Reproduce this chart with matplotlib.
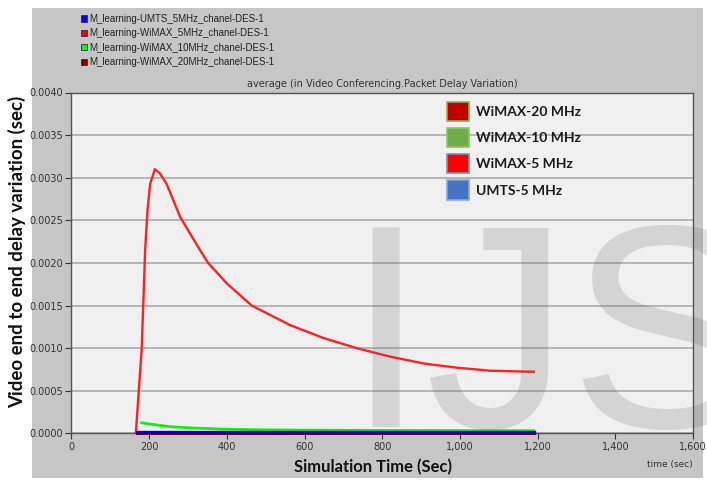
import numpy as np
import matplotlib
matplotlib.use('Agg')
import matplotlib.pyplot as plt
from matplotlib.patches import Patch, Rectangle
from matplotlib.ticker import FuncFormatter, MultipleLocator

# series (time in sec, delay variation in sec)
t_wimax5 = [166, 181, 190, 196, 203, 215, 228, 245, 280, 331, 352, 400, 464,
            563, 648, 734, 820, 906, 992, 1077, 1180, 1190]
d_wimax5 = [0.0, 0.00098, 0.00215, 0.00262, 0.00293, 0.00310, 0.00305, 0.00293,
            0.00254, 0.00215, 0.00200, 0.00176, 0.00150, 0.00127, 0.00112,
            0.00100, 0.00090, 0.00082, 0.00077, 0.000735, 0.000723, 0.000723]

t_wimax10 = [181, 200, 254, 300, 382, 500, 700, 900, 1190]
d_wimax10 = [0.000124, 0.000110, 0.0000775, 0.000065, 0.00005, 0.00004,
             0.000035, 0.000032, 0.00003]

t_wimax20 = [170, 400, 800, 1190]
d_wimax20 = [0.000004, 0.000004, 0.000004, 0.000004]

t_umts = [170, 400, 800, 1190]
d_umts = [0.00001, 0.00001, 0.00001, 0.00001]

top_names = ['M_learning-UMTS_5MHz_chanel-DES-1',
             'M_learning-WiMAX_5MHz_chanel-DES-1',
             'M_learning-WiMAX_10MHz_chanel-DES-1',
             'M_learning-WiMAX_20MHz_chanel-DES-1']
top_colors = ['#0000ff', '#ff0000', '#00ff00', '#800000']

box_names = ['WiMAX-20 MHz', 'WiMAX-10 MHz', 'WiMAX-5 MHz', 'UMTS-5 MHz']
box_colors = ['#c00000', '#70ad47', '#ff0000', '#4472c4']
box_edges = ['#8fae5a', '#8fc46a', '#7f8fb0', '#8fa8d8']

W, H = 707, 484
fig = plt.figure(figsize=(W / 100, H / 100), dpi=100, facecolor='white')

# gray panel behind everything
fig.patches.append(Rectangle((32 / W, 6 / H), (703 - 32) / W, (478 - 8) / H,
                             transform=fig.transFigure, facecolor='#c6c6c6',
                             edgecolor='none', zorder=0))

ax = fig.add_axes([71.3 / W, (H - 433.3) / H, (693.2 - 71.3) / W, (433.3 - 92.5) / H])
ax.set_zorder(1)
ax.set_facecolor('#f0f0f0')

ax.plot(t_wimax20, d_wimax20, color='#800000', lw=2.2, zorder=3, clip_on=False)
ax.plot(t_wimax10, d_wimax10, color='#11ee11', lw=2.0, zorder=3)
ax.plot(t_wimax5, d_wimax5, color='#ff2020', lw=1.7, zorder=3)
ax.plot(t_umts, d_umts, color='#0000d0', lw=2.4, zorder=4, clip_on=False)

ax.set_xlim(0, 1600)
ax.set_ylim(0, 0.004)
ax.xaxis.set_major_locator(MultipleLocator(200))
ax.yaxis.set_major_locator(MultipleLocator(0.0005))
ax.xaxis.set_major_formatter(FuncFormatter(lambda v, p: f'{int(v):,}'))
ax.yaxis.set_major_formatter(FuncFormatter(lambda v, p: f'{v:.4f}'))
ax.grid(axis='y', color='#ababab', lw=1.2)
ax.set_axisbelow(True)
ax.tick_params(labelsize=7, colors='#333333', length=4, width=0.8, pad=2)
for s in ax.spines.values():
    s.set_color('#555555')
    s.set_linewidth(1.0)

ax.set_title('average (in Video Conferencing.Packet Delay Variation)',
             fontsize=7, color='#333333', pad=4)

handles = [Patch(facecolor=c, edgecolor=e, linewidth=1.2)
           for c, e in zip(box_colors, box_edges)]
leg = ax.legend(handles, box_names, loc='upper left',
                bbox_to_anchor=(447 / W, 1 - 102 / H), bbox_transform=fig.transFigure,
                frameon=False, handlelength=1.55, handleheight=1.75,
                handletextpad=0.55, labelspacing=0.5, borderpad=0, borderaxespad=0,
                prop={'family': 'Lato', 'weight': 'bold', 'size': 10})
for txt in leg.get_texts():
    txt.set_color('#1a1a1a')

top_handles = [Patch(facecolor=c, edgecolor='#333333', linewidth=0.6) for c in top_colors]
fig.legend(top_handles, top_names, loc='upper left',
           bbox_to_anchor=(81 / W, 1 - 14 / H), frameon=False,
           handlelength=0.6, handleheight=0.6, handletextpad=0.3,
           labelspacing=0.45, borderpad=0, borderaxespad=0,
           prop={'family': 'Liberation Sans', 'size': 7}, labelcolor='#222222')

fig.text(373 / W, 1 - 467 / H, 'Simulation Time (Sec)', ha='center', va='center',
         fontsize=12, fontweight='bold', family='Lato', color='#111111')
fig.text(17 / W, 1 - 252 / H, 'Video end to end delay variation (sec)', ha='center',
         va='center', rotation=90, fontsize=13.5, fontweight='bold', family='Lato',
         color='#111111')
fig.text(670 / W, 1 - 465 / H, 'time (sec)', ha='center', va='center',
         fontsize=6.5, color='#333333')

# watermark
fig.text(345 / W, 1 - 427 / H, 'IJS', ha='left', va='baseline', fontsize=208,
         family='Liberation Sans', color='#606060', alpha=0.19, zorder=5)

fig.savefig('out.png', dpi=100, facecolor='white')
